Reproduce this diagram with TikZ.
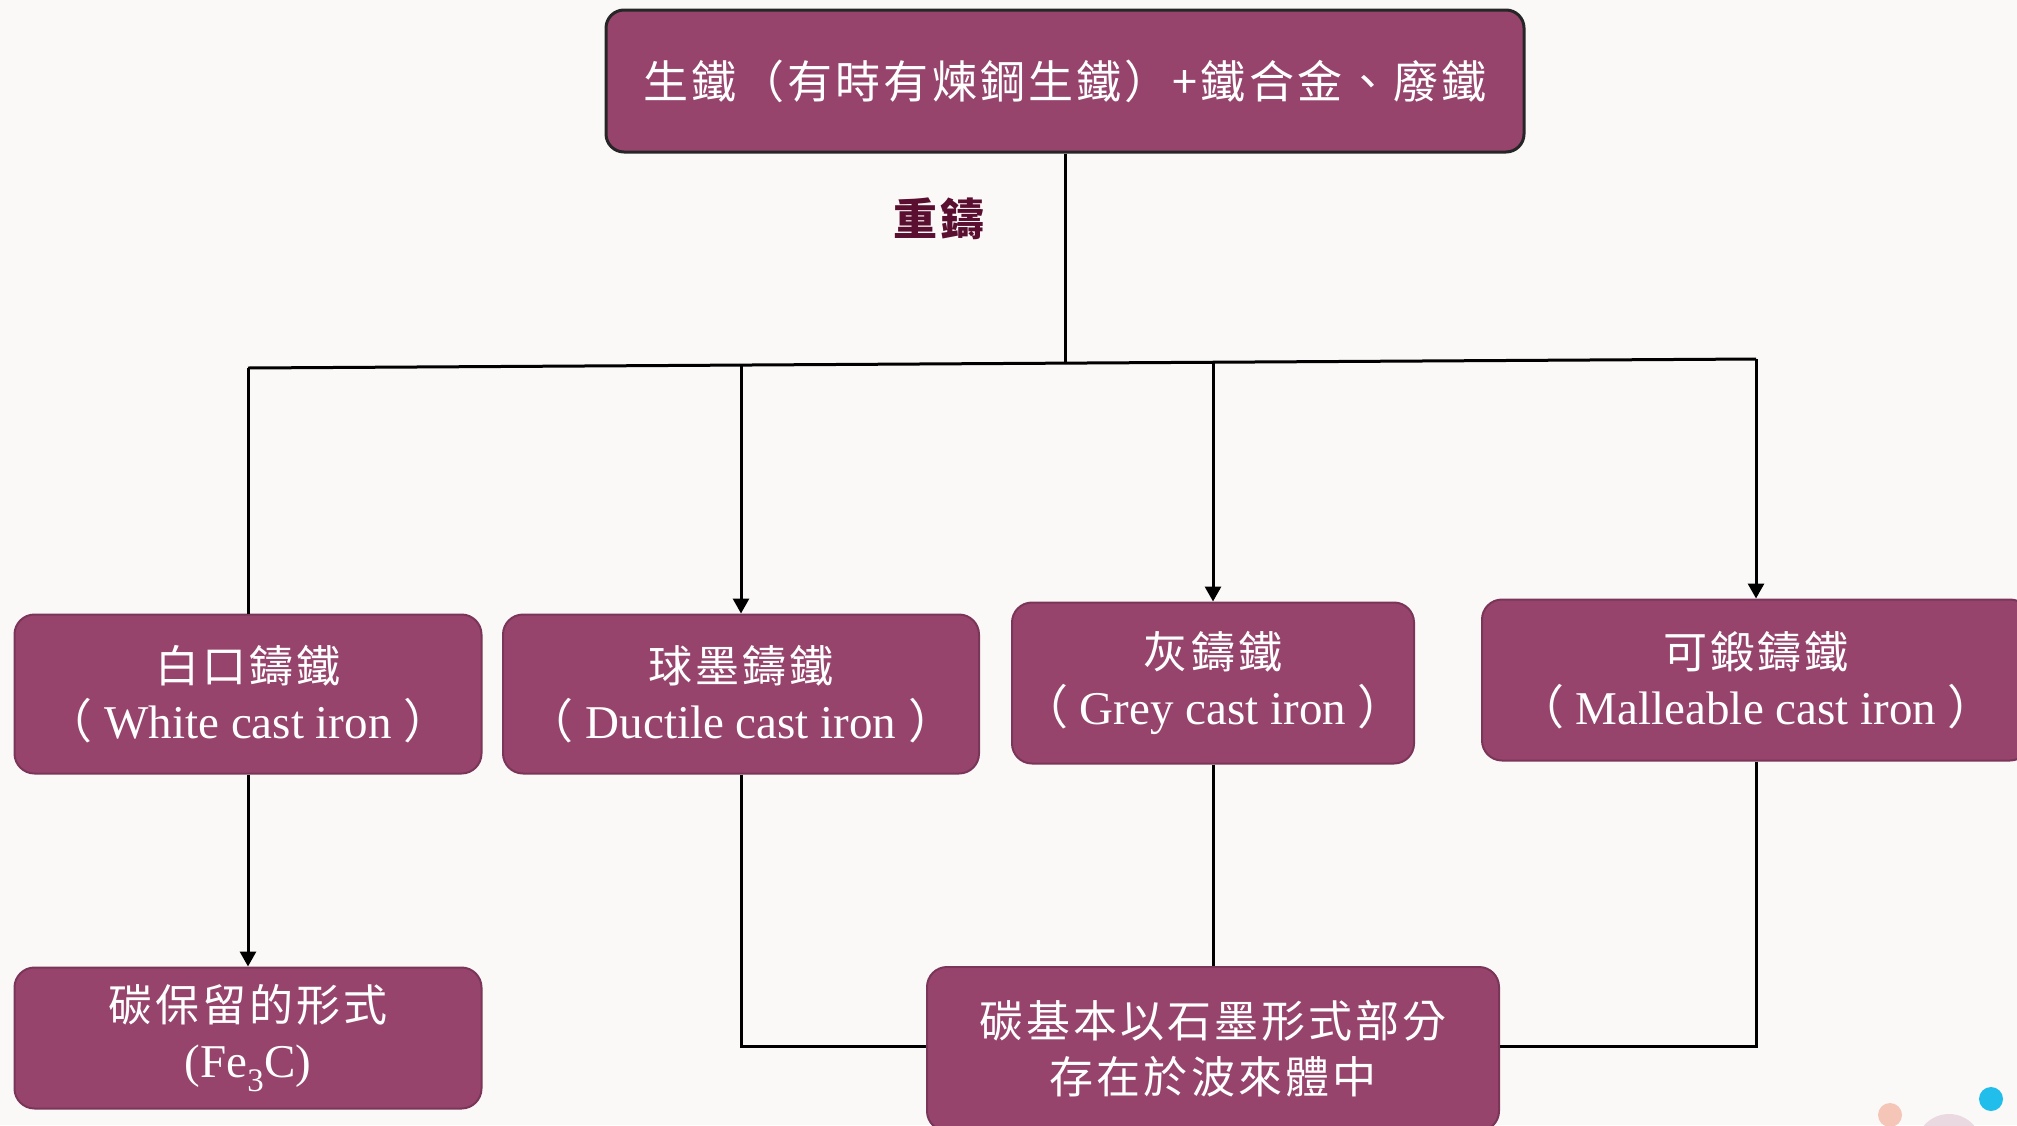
\documentclass[tikz,border=0pt]{standalone}
\usepackage{fontspec}
\setmainfont{Liberation Serif}
\newfontfamily\cjk[LetterSpace=7]{Noto Sans CJK TC}
\newfontfamily\cjkp{Noto Sans CJK TC}
\usetikzlibrary{arrows.meta}
\definecolor{bg}{HTML}{FBF9F8}
\definecolor{boxfill}{HTML}{97446D}
\definecolor{boxline}{HTML}{7A3558}
\definecolor{lbl}{HTML}{5A0F30}
\definecolor{dotblue}{HTML}{21BEEC}
\definecolor{dotsalmon}{HTML}{F5C6B8}
\definecolor{dotpink}{HTML}{EBD9E2}
\newcommand{\engl}[1]{{\fontsize{47}{56}\selectfont{\cjkp （}\ #1\ {\cjkp ）}}}
\begin{document}
\begin{tikzpicture}[x=1pt,y=-1pt,
  box/.style={draw=boxline, line width=2pt, fill=boxfill, rounded corners=20pt,
    text=white, align=center, inner sep=0pt,
    font=\fontsize{44}{56}\selectfont},
  topbox/.style={box, draw=black!85, line width=3pt, rounded corners=18pt,
    font=\fontsize{45}{56}\selectfont\cjk},
  conn/.style={line width=3pt, draw=black},
  arr/.style={conn, -{Triangle[width=16pt,length=15pt]}},
  lab/.style={text=lbl, font=\fontsize{44}{50}\selectfont\cjk\bfseries}]
\useasboundingbox (0,0) rectangle (2017,1125);
\fill[bg] (0,0) rectangle (2017,1125);
\clip (0,0) rectangle (2017,1125);
% decorations
\fill[dotpink] (1949,1147) circle (33);
\fill[dotsalmon] (1890,1115) circle (12);
\fill[dotblue] (1991,1099) circle (12);
% nodes
\node[topbox, minimum width=918pt, minimum height=142pt] (top) at (1065,81)
  {生鐵（有時有煉鋼生鐵）+鐵合金、廢鐵};
\node[box, minimum width=467pt, minimum height=159pt] (white) at (248,694)
  {{\cjk 白口鑄鐵}\\\engl{White cast iron}};
\node[box, minimum width=476pt, minimum height=159pt] (ductile) at (741,694)
  {{\cjk 球墨鑄鐵}\\\engl{Ductile cast iron}};
\node[box, minimum width=402pt, minimum height=161pt] (grey) at (1213,683)
  {{\cjk 灰鑄鐵}\\\engl{Grey cast iron}};
\node[box, minimum width=548pt, minimum height=161pt] (mall) at (1756,680)
  {{\cjk 可鍛鑄鐵}\\\engl{Malleable cast iron}};
\node[box, minimum width=467pt, minimum height=141pt] (fe3c) at (248,1038)
  {{\cjk 碳保留的形式}\\{\fontsize{47}{56}\selectfont (Fe\textsubscript{3}C)}};
\node[box, minimum width=572pt, minimum height=164pt] (graph) at (1213,1049)
  {{\cjk 碳基本以石墨形式部分}\\{\cjk 存在於波來體中}};
\node[lab] (recast) at (939,219) {重鑄};
% bus coordinates
\coordinate (b1) at (248,368);
\coordinate (b2) at (741,365);
\coordinate (b3) at (1065,363);
\coordinate (b4) at (1213,362);
\coordinate (b5) at (1756,359);
\coordinate (jl) at (741,1046);
\coordinate (jr) at (1756,1046);
% connectors
\draw[conn] (top.south) -- (b3);
\draw[conn] (b1) -- (b5);
\draw[conn] (b1) -- (white.north);
\draw[arr] (b2) -- (ductile.north);
\draw[arr] (b4) -- (grey.north);
\draw[arr] (b5) -- (mall.north);
\draw[arr] (white.south) -- (fe3c.north);
\draw[conn] (ductile.south) -- (jl) -- (graph.west |- jl);
\draw[conn] (grey.south) -- (graph.north);
\draw[conn] (mall.south) -- (jr) -- (graph.east |- jr);
\end{tikzpicture}
\end{document}
